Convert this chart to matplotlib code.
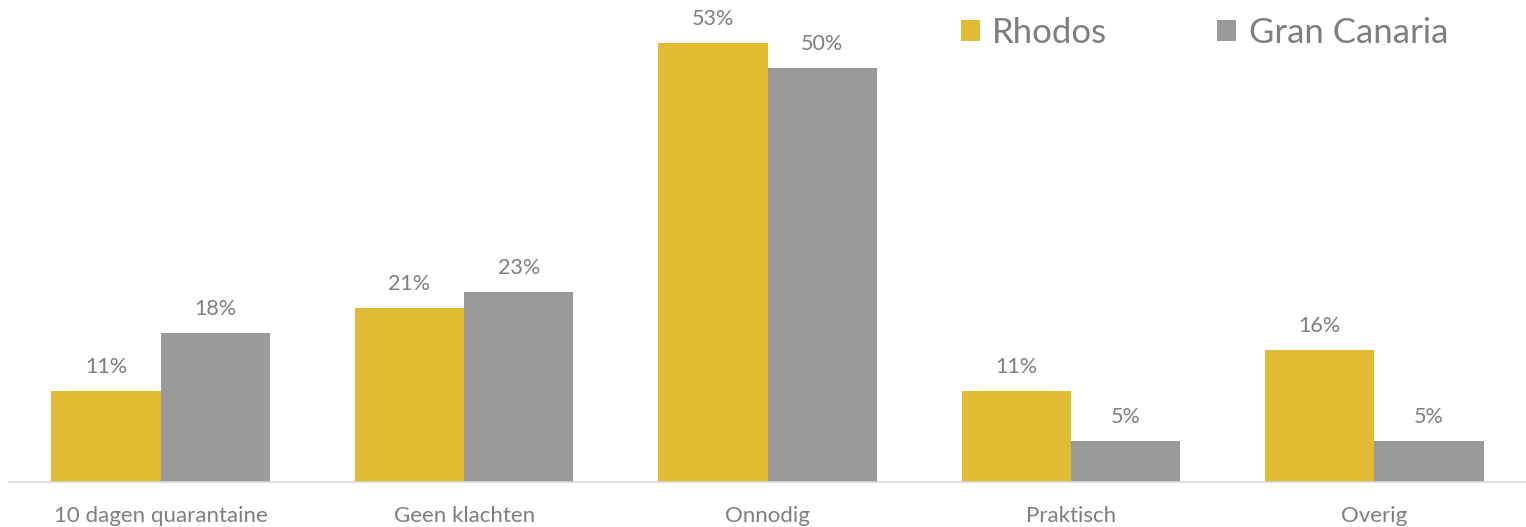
import matplotlib
matplotlib.use("Agg")
import matplotlib.pyplot as plt
from matplotlib.patches import Patch
import numpy as np

# ── data ─────────────────────────────────────────────────────────────────────

categories = ["10 dagen quarantaine", "Geen klachten", "Onnodig", "Praktisch", "Overig"]
rhodos = [11, 21, 53, 11, 16]
gran_canaria = [18, 23, 50, 5, 5]
series_names = ["Rhodos", "Gran Canaria"]

YELLOW = "#E0BB33"
GREY = "#9A9A9A"
TEXT = "#7F7F7F"

plt.rcParams["font.family"] = ["Lato", "DejaVu Sans"]

fig = plt.figure(figsize=(15.26, 5.27), dpi=100)
ax = fig.add_axes([9 / 1526, 45 / 527, 1 - 9 / 1526, 480 / 527])

x = np.arange(len(categories))
w = 0.36

b1 = ax.bar(x - w / 2, rhodos, width=w, color=YELLOW)
b2 = ax.bar(x + w / 2, gran_canaria, width=w, color=GREY)

for bars, vals in ((b1, rhodos), (b2, gran_canaria)):
    for bar, v in zip(bars, vals):
        ax.annotate(f"{v}%", (bar.get_x() + bar.get_width() / 2, v),
                    xytext=(0, 10), textcoords="offset points",
                    ha="center", va="bottom", fontsize=15.5, color=TEXT)

ax.set_xlim(-0.5, len(categories) - 0.5)
ax.set_ylim(0, 58)
ax.set_yticks([])
ax.set_xticks(x)
ax.set_xticklabels(categories, fontsize=16, color=TEXT)
ax.tick_params(axis="x", length=0, pad=17)
for s in ["top", "right", "left"]:
    ax.spines[s].set_visible(False)
ax.spines["bottom"].set_color("#D9D9D9")
ax.spines["bottom"].set_linewidth(1.2)

handles = [Patch(facecolor=YELLOW, label=series_names[0]),
           Patch(facecolor=GREY, label=series_names[1])]
fig.legend(handles=handles, loc="upper right", bbox_to_anchor=(1448 / 1526, 0.968),
           ncol=2, frameon=False, fontsize=25, labelcolor=TEXT,
           borderpad=0, borderaxespad=0,
           handlelength=0.55, handleheight=0.55, handletextpad=0.35, columnspacing=3.17)

fig.savefig("out.png", dpi=100)
